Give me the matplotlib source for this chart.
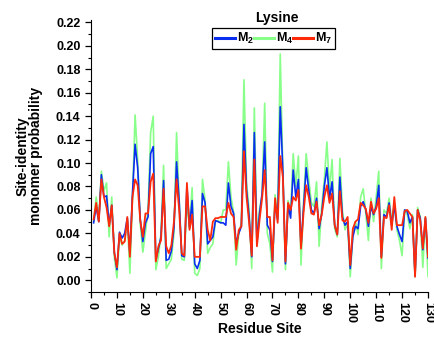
import numpy as np
import matplotlib
matplotlib.use('Agg')
import matplotlib.pyplot as plt
from matplotlib.ticker import MultipleLocator

plt.rcParams['font.family'] = ['Liberation Sans', 'DejaVu Sans']
plt.rcParams['font.weight'] = 'bold'
plt.rcParams['mathtext.fontset'] = 'custom'
plt.rcParams['mathtext.rm'] = 'Liberation Sans:bold'
plt.rcParams['mathtext.bf'] = 'Liberation Sans:bold'

# residue index 1..130
site = np.arange(1, 131)

# M2 monomer probability per site
m2 = [0.049, 0.063, 0.050, 0.090, 0.071, 0.072, 0.047, 0.064, 0.024, 0.009,
      0.041, 0.036, 0.040, 0.053, 0.023, 0.074, 0.116, 0.096, 0.052, 0.033,
      0.049, 0.054, 0.108, 0.114, 0.017, 0.027, 0.037, 0.085, 0.017, 0.018,
      0.025, 0.045, 0.101, 0.068, 0.021, 0.020, 0.080, 0.045, 0.068, 0.014,
      0.010, 0.017, 0.074, 0.066, 0.031, 0.034, 0.037, 0.051, 0.050, 0.049,
      0.049, 0.047, 0.083, 0.063, 0.057, 0.031, 0.040, 0.046, 0.133, 0.077,
      0.054, 0.020, 0.126, 0.031, 0.057, 0.074, 0.118, 0.047, 0.043, 0.016,
      0.066, 0.052, 0.148, 0.094, 0.014, 0.064, 0.053, 0.094, 0.071, 0.086,
      0.029, 0.063, 0.096, 0.077, 0.060, 0.057, 0.070, 0.044, 0.057, 0.080,
      0.096, 0.070, 0.084, 0.047, 0.039, 0.088, 0.054, 0.047, 0.050, 0.010,
      0.037, 0.046, 0.044, 0.063, 0.067, 0.060, 0.046, 0.063, 0.056, 0.063,
      0.081, 0.020, 0.056, 0.054, 0.066, 0.047, 0.064, 0.046, 0.039, 0.033,
      0.060, 0.059, 0.049, 0.054, 0.004, 0.060, 0.053, 0.026, 0.053, 0.019]

# M4
m4 = [0.050, 0.071, 0.051, 0.093, 0.076, 0.083, 0.037, 0.071, 0.020, 0.002,
      0.037, 0.030, 0.034, 0.052, 0.006, 0.070, 0.141, 0.103, 0.048, 0.024,
      0.041, 0.060, 0.126, 0.140, 0.009, 0.020, 0.040, 0.098, 0.010, 0.014,
      0.018, 0.040, 0.126, 0.068, 0.018, 0.017, 0.066, 0.045, 0.079, 0.006,
      0.004, 0.010, 0.086, 0.068, 0.023, 0.028, 0.031, 0.050, 0.051, 0.049,
      0.060, 0.060, 0.101, 0.071, 0.058, 0.013, 0.040, 0.049, 0.171, 0.083,
      0.060, 0.010, 0.147, 0.037, 0.060, 0.072, 0.151, 0.040, 0.031, 0.007,
      0.073, 0.055, 0.193, 0.094, 0.009, 0.068, 0.058, 0.108, 0.080, 0.106,
      0.013, 0.066, 0.108, 0.086, 0.066, 0.063, 0.084, 0.029, 0.063, 0.086,
      0.118, 0.077, 0.103, 0.044, 0.037, 0.104, 0.059, 0.043, 0.049, 0.003,
      0.039, 0.050, 0.039, 0.071, 0.078, 0.057, 0.034, 0.070, 0.050, 0.071,
      0.093, 0.010, 0.060, 0.057, 0.070, 0.049, 0.066, 0.043, 0.034, 0.021,
      0.060, 0.056, 0.044, 0.056, 0.003, 0.062, 0.054, 0.011, 0.054, 0.003]

# M7
m7 = [0.052, 0.066, 0.050, 0.086, 0.071, 0.062, 0.046, 0.064, 0.023, 0.011,
      0.040, 0.031, 0.033, 0.054, 0.020, 0.071, 0.086, 0.081, 0.051, 0.037,
      0.057, 0.057, 0.084, 0.091, 0.016, 0.029, 0.034, 0.078, 0.029, 0.023,
      0.030, 0.050, 0.086, 0.060, 0.023, 0.021, 0.083, 0.043, 0.056, 0.020,
      0.020, 0.020, 0.063, 0.063, 0.043, 0.034, 0.050, 0.053, 0.053, 0.054,
      0.054, 0.054, 0.066, 0.057, 0.054, 0.026, 0.043, 0.046, 0.110, 0.071,
      0.049, 0.021, 0.103, 0.029, 0.051, 0.070, 0.094, 0.054, 0.054, 0.017,
      0.070, 0.049, 0.106, 0.088, 0.016, 0.066, 0.060, 0.071, 0.068, 0.077,
      0.027, 0.058, 0.081, 0.071, 0.057, 0.056, 0.067, 0.047, 0.056, 0.071,
      0.081, 0.066, 0.074, 0.047, 0.039, 0.076, 0.051, 0.050, 0.054, 0.013,
      0.044, 0.050, 0.052, 0.066, 0.064, 0.061, 0.049, 0.067, 0.057, 0.061,
      0.070, 0.019, 0.054, 0.053, 0.064, 0.043, 0.071, 0.047, 0.047, 0.047,
      0.059, 0.060, 0.057, 0.054, 0.003, 0.060, 0.051, 0.027, 0.054, 0.020]

fig = plt.figure(figsize=(4.34, 3.41), dpi=100)
ax = fig.add_axes([0.2097, 0.1437, 0.7765, 0.7977])

l4, = ax.plot(site, m4, color='#88FF88', lw=1.2, zorder=2)
l2, = ax.plot(site, m2, color='#0A2EF0', lw=1.2, zorder=3)
l7, = ax.plot(site, m7, color='#FF2A0A', lw=1.3, zorder=4)

ax.set_xlim(0, 130)
ax.set_ylim(-0.01, 0.222)
ax.xaxis.set_major_locator(MultipleLocator(10))
ax.xaxis.set_minor_locator(MultipleLocator(5))
ax.yaxis.set_minor_locator(MultipleLocator(0.01))
ax.set_yticks(np.arange(0, 0.221, 0.02))
ax.set_yticklabels(['%.2f' % v for v in np.arange(0, 0.221, 0.02)])

ax.spines['top'].set_visible(False)
ax.spines['right'].set_visible(False)
ax.tick_params(which='major', direction='out', length=4, width=0.9, labelsize=9)
ax.tick_params(which='minor', direction='out', length=2, width=0.8)
for lab in ax.get_xticklabels():
    lab.set_rotation(-90)
    lab.set_fontweight('bold')
for lab in ax.get_yticklabels():
    lab.set_fontweight('bold')

ax.set_xlabel('Residue Site', fontsize=10, fontweight='bold', labelpad=-1)
ax.set_ylabel('Site-identity\nmonomer probability', fontsize=10,
              fontweight='bold', labelpad=9, linespacing=1.0)

leg = ax.legend([l2, l4, l7], [r'M$_2$', r'M$_4$', r'M$_7$'],
                loc='center', bbox_to_anchor=(0.630, 0.887),
                bbox_transform=fig.transFigure, ncol=3, frameon=True,
                fancybox=False, edgecolor='black', framealpha=1,
                handlelength=1.6, handletextpad=0.15, columnspacing=0.0,
                borderpad=0.25, borderaxespad=0,
                prop={'weight': 'bold', 'size': 9})
leg.get_frame().set_linewidth(0.9)
for h in leg.legend_handles:
    h.set_linewidth(2.2)
fig.text(0.638, 0.947, 'Lysine', ha='center', va='center',
         fontsize=10, fontweight='bold')

fig.savefig('out.png', dpi=100)
